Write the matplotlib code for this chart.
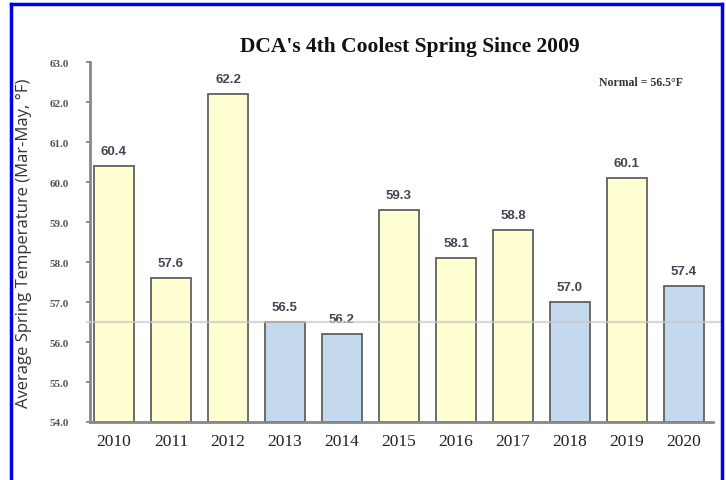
import matplotlib
matplotlib.use("Agg")
import matplotlib.pyplot as plt
from matplotlib.lines import Line2D

years = ["2010", "2011", "2012", "2013", "2014", "2015", "2016", "2017", "2018", "2019", "2020"]
temps = [60.4, 57.6, 62.2, 56.5, 56.2, 59.3, 58.1, 58.8, 57.0, 60.1, 57.4]
normal = 56.5
yticks = [54.0, 55.0, 56.0, 57.0, 58.0, 59.0, 60.0, 61.0, 62.0, 63.0]

W, H = 726, 481
fig = plt.figure(figsize=(W / 100, H / 100), dpi=100)
ax = fig.add_axes([90 / W, 1 - 423 / H, (713 - 90) / W, (423 - 63.3) / H])

colors = ["#c5d9ee" if t <= normal + 1.0 else "#ffffd2" for t in temps]
x = list(range(len(years)))
ax.bar(x, [t - 54.0 for t in temps], bottom=54.0, width=0.7, color=colors,
       edgecolor="#606060", linewidth=1.3, zorder=2)

ax.set_ylim(54.0, 63.0)
ax.set_xlim(-0.42, 10.51)
ax.set_yticks(yticks)
ax.set_yticklabels([f"{v:.1f}" for v in yticks], family="Liberation Serif",
                   fontweight="bold", fontsize=8, color="#555555")
ax.set_xticks(x)
ax.set_xticklabels(years, family="Liberation Serif", fontsize=12.5, color="#222222")
ax.tick_params(axis="x", length=0, pad=8)
ax.tick_params(axis="y", length=3, width=1.2, color="#777777", pad=12, direction="out")
for s in ["top", "right"]:
    ax.spines[s].set_visible(False)
for s in ["left", "bottom"]:
    ax.spines[s].set_color("#888888")
    ax.spines[s].set_linewidth(2)

for xi, t in zip(x, temps):
    ax.text(xi, t + 0.22, f"{t:.1f}", ha="center", va="bottom", fontsize=9.5,
            fontweight="bold", color="#444455", family="Liberation Sans")

ax.axhline(normal, xmin=-0.005, xmax=(722 - 90) / (713 - 90), color="#c8c8c8",
           alpha=0.7, linewidth=1.6, zorder=3, clip_on=False)

ax.set_ylabel("Average Spring Temperature (Mar-May, °F)", family="Open Sans",
              fontsize=12, color="#333333")
ax.yaxis.set_label_coords((32 - 90) / (713 - 90), 0.5)

fig.text(410 / W, 1 - 47 / H, "DCA's 4th Coolest Spring Since 2009", ha="center",
         va="center", family="Liberation Serif", fontweight="bold", fontsize=15.5, color="#111111")
fig.text(641 / W, 1 - 83 / H, "Normal = 56.5°F", ha="center", va="center",
         family="Liberation Serif", fontweight="bold", fontsize=8.5, color="#333333")

# blue frame (open at bottom)
fy = lambda py: 1 - py / H
fx = lambda px: px / W
for xs, ys in [([11, 11], [5, 481]), ([11, 722], [5, 5]), ([722, 722], [5, 481])]:
    fig.add_artist(Line2D([fx(v) for v in xs], [fy(v) for v in ys], color="#0000ee",
                          linewidth=2.5, transform=fig.transFigure))

fig.savefig("out.png", dpi=100)
